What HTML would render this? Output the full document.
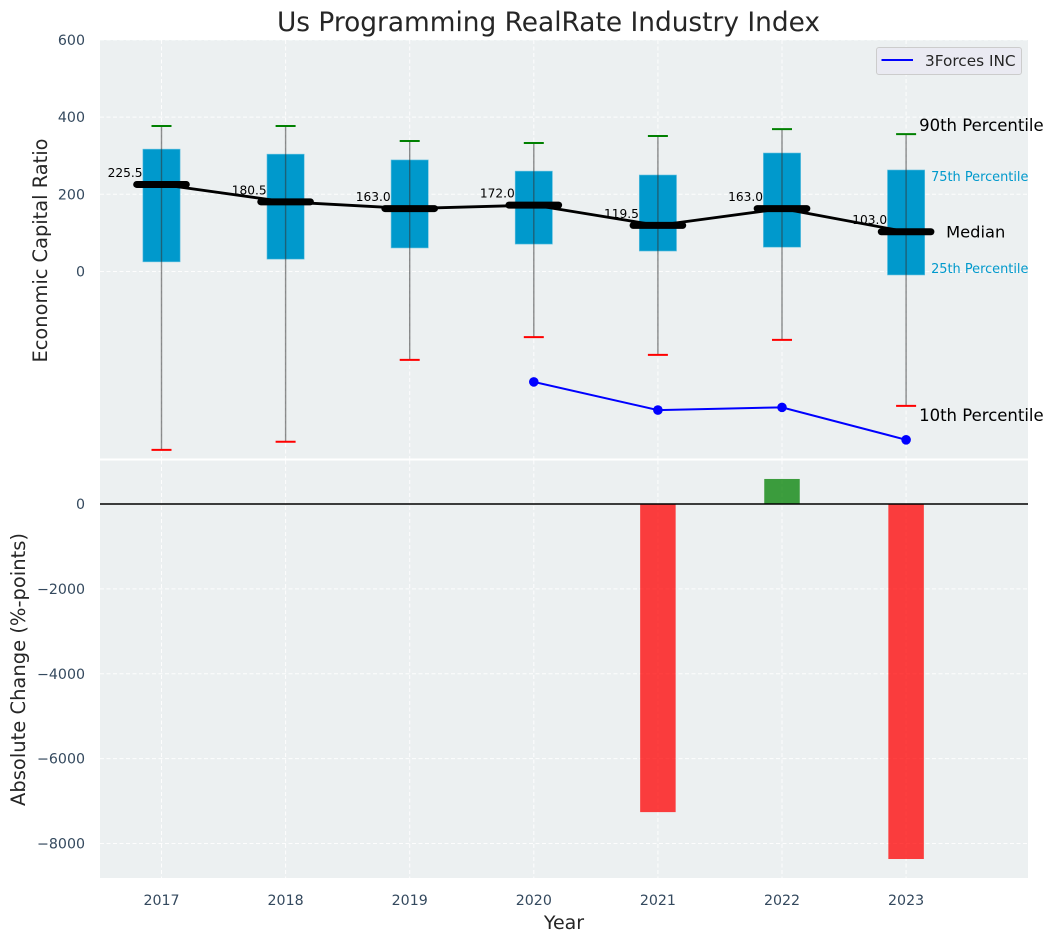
<!DOCTYPE html>
<html lang="en">
<head>
<meta charset="utf-8">
<title>Us Programming RealRate Industry Index</title>
<style>
html,body{margin:0;padding:0;background:#fff;width:1054px;height:942px;overflow:hidden}
svg{display:block}
text{font-family:"DejaVu Sans","Liberation Sans",sans-serif}
</style>
</head>
<body>
<svg id="chart" xmlns="http://www.w3.org/2000/svg" width="1054" height="942" viewBox="0 0 1054 942">
  <text x="548.5" y="31" text-anchor="middle" font-size="26.4" fill="#262626">Us Programming RealRate Industry Index</text>
  <rect x="100" y="40" width="928" height="418.5" fill="#ecf0f1"/>
  <rect x="100" y="460.5" width="928" height="417.5" fill="#ecf0f1"/>
  <g id="grid"></g>
  <g id="top-marks"></g>
  <g id="bottom-marks"></g>
  <g id="ticks"></g>
  <text transform="translate(47,250.5) rotate(-90)" text-anchor="middle" font-size="19.4" fill="#262626">Economic Capital Ratio</text>
  <text transform="translate(25,669.5) rotate(-90)" text-anchor="middle" font-size="19.5" fill="#262626">Absolute Change (%-points)</text>
  <text x="564" y="929" text-anchor="middle" font-size="19" fill="#262626">Year</text>
  <g>
    <rect x="876.5" y="47.5" width="145" height="27" rx="2.5" fill="#eaeaf2" stroke="#cccccc" stroke-width="1"/>
    <line x1="881.5" x2="913" y1="60" y2="60" stroke="#0000ff" stroke-width="2"/>
    <text x="925" y="66" font-size="15.3" fill="#262626">3Forces INC</text>
  </g>
</svg>
<script>
const years = [2017, 2018, 2019, 2020, 2021, 2022, 2023];
const p90 = [377, 377, 338, 333, 351, 369, 356];
const p75 = [317, 304, 289, 260, 250, 307, 263];
const median = [225.5, 180.5, 163.0, 172.0, 119.5, 163.0, 103.0];
const p25 = [25, 32, 61, 71, 53, 63, -9];
const p10 = [-462, -441, -229, -170, -216, -177, -348];
const companyYears = [2020, 2021, 2022, 2023];
const companyValues = [-286, -359, -352, -436];
const changeYears = [2021, 2022, 2023];
const changeValues = [-7260, 590, -8365];
const topTicks = [0, 200, 400, 600];
const bottomTicks = [0, -2000, -4000, -6000, -8000];

const NS = 'http://www.w3.org/2000/svg';
const xScale = v => 161.5 + (v - 2017) * 124.1;
const yTop = v => 271.5 - v * 0.386;
const yBottom = v => 504 - v * 0.04244;
const dx = v => v * 124.1;

function make(parent, tag, attrs, content) {
  const el = document.createElementNS(NS, tag);
  for (const k in attrs) el.setAttribute(k, attrs[k]);
  if (content !== undefined) el.textContent = content;
  parent.appendChild(el);
  return el;
}
const grid = document.getElementById('grid');
const top_ = document.getElementById('top-marks');
const bottom = document.getElementById('bottom-marks');
const ticks = document.getElementById('ticks');
const gridStyle = {stroke: '#ffffff', 'stroke-width': 1, 'stroke-dasharray': '4 2.5', opacity: 0.9};
let el;

years.forEach(yr => {
  const x = xScale(yr);
  el = make(grid, 'line', Object.assign({x1: x, x2: x, y1: 40, y2: 458.5}, gridStyle));
  
  
  el = make(grid, 'line', Object.assign({x1: x, x2: x, y1: 460.5, y2: 878}, gridStyle));
  
  
  el = make(ticks, 'text', {x: x, y: 905, 'text-anchor': 'middle', 'font-size': 14.2, fill: '#34495e'}, String(yr));
  
  
});
topTicks.forEach(v => {
  const y = yTop(v);
  el = make(grid, 'line', Object.assign({x1: 100, x2: 1028, y1: y, y2: y}, gridStyle));
  
  
  el = make(ticks, 'text', {x: 85, y: y + 5, 'text-anchor': 'end', 'font-size': 14.2, fill: '#34495e'}, String(v));
  
  
});
bottomTicks.forEach(v => {
  const y = yBottom(v);
  el = make(grid, 'line', Object.assign({x1: 100, x2: 1028, y1: y, y2: y}, gridStyle));
  
  
  el = make(ticks, 'text', {x: 85, y: y + 5, 'text-anchor': 'end', 'font-size': 14.2, fill: '#34495e'}, String(v).replace('-', '\u2212'));
  
  
});

years.forEach((yr, i) => {
  const x = xScale(yr);
  el = make(top_, 'rect', {x: x - dx(0.15), y: yTop(p75[i]), width: dx(0.3), height: yTop(p25[i]) - yTop(p75[i]), fill: '#0099cc', stroke: '#66c2e0', 'stroke-width': 0.6});
  
  
  el = make(top_, 'line', {x1: x, x2: x, y1: yTop(p90[i]), y2: yTop(p10[i]), stroke: '#333333', 'stroke-opacity': 0.55, 'stroke-width': 1.4});
  
  
  el = make(top_, 'line', {x1: x - 10, x2: x + 10, y1: yTop(p90[i]), y2: yTop(p90[i]), stroke: '#008000', 'stroke-width': 2});
  
  
  el = make(top_, 'line', {x1: x - 10, x2: x + 10, y1: yTop(p10[i]), y2: yTop(p10[i]), stroke: '#ff0000', 'stroke-width': 2});
  
  
  el = make(top_, 'text', {x: x - 19, y: yTop(median[i]) - 7.5, 'text-anchor': 'end', 'font-size': 12.2, fill: '#000000'}, median[i].toFixed(1));
  
  
});

el = make(top_, 'polyline', {points: years.map((yr, i) => xScale(yr) + ',' + yTop(median[i])).join(' '), fill: 'none', stroke: '#000000', 'stroke-width': 2.8});


years.forEach((yr, i) => {
  const x = xScale(yr);
  el = make(top_, 'line', {x1: x - dx(0.2), x2: x + dx(0.2), y1: yTop(median[i]), y2: yTop(median[i]), stroke: '#000000', 'stroke-width': 7, 'stroke-linecap': 'round'});
  
  
});

el = make(top_, 'polyline', {points: companyYears.map((yr, i) => xScale(yr) + ',' + yTop(companyValues[i])).join(' '), fill: 'none', stroke: '#0000ff', 'stroke-width': 2});


companyYears.forEach((yr, i) => {
  el = make(top_, 'circle', {cx: xScale(yr), cy: yTop(companyValues[i]), r: 4.8, fill: '#0000ff'});
  
  
});

const last = years.length - 1;
const lastX = xScale(years[last]);
el = make(top_, 'text', {x: lastX + 13, y: yTop(p90[last]) - 3, 'font-size': 16.5, fill: '#000000'}, '90th Percentile');


el = make(top_, 'text', {x: lastX + 25, y: yTop(p75[last]) + 11, 'font-size': 12.9, fill: '#0099cc'}, '75th Percentile');


el = make(top_, 'text', {x: lastX + 40, y: yTop(median[last]) + 6, 'font-size': 16.3, fill: '#000000'}, 'Median');


el = make(top_, 'text', {x: lastX + 25, y: yTop(p25[last]) - 2, 'font-size': 12.9, fill: '#0099cc'}, '25th Percentile');


el = make(top_, 'text', {x: lastX + 13, y: yTop(p10[last]) + 15, 'font-size': 16.5, fill: '#000000'}, '10th Percentile');



changeYears.forEach((yr, i) => {
  const v = changeValues[i];
  const x = xScale(yr);
  const y0 = yBottom(Math.max(v, 0));
  const y1 = yBottom(Math.min(v, 0));
  el = make(bottom, 'rect', {x: x - dx(0.143), y: y0, width: dx(0.286), height: y1 - y0, fill: v < 0 ? '#ff0000' : '#008000', 'fill-opacity': 0.75});
  
  
});
el = make(bottom, 'line', {x1: 100, x2: 1028, y1: yBottom(0), y2: yBottom(0), stroke: '#000000', 'stroke-width': 1.6});


</script>
</body>
</html>
